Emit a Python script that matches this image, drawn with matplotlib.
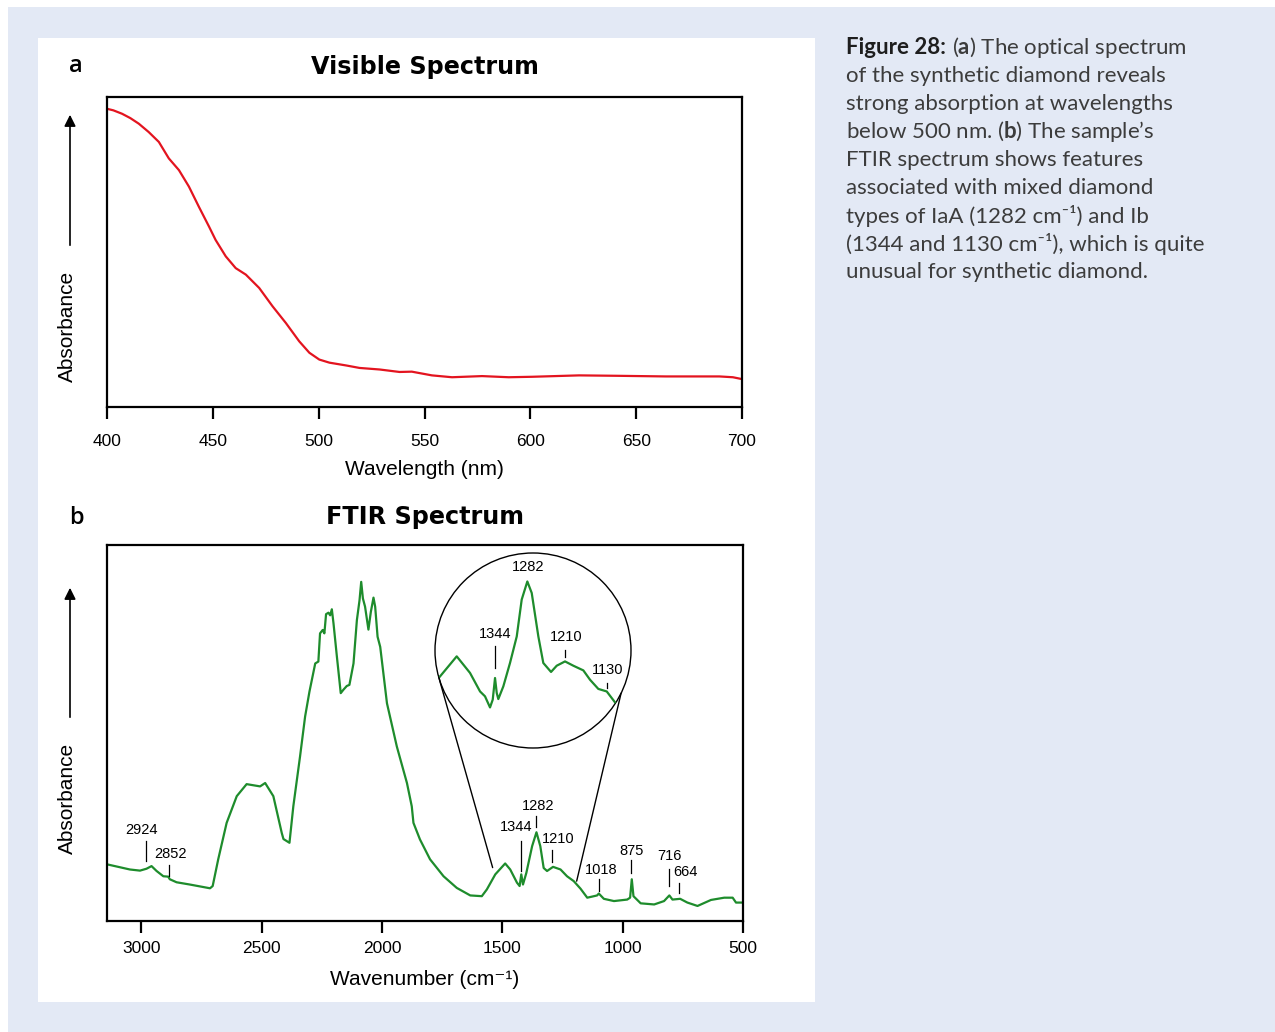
"""
Figure 28: visible and FTIR absorption spectra of a synthetic diamond.
Two stacked panels on a white card, caption on the right.
"""

import matplotlib
matplotlib.use("Agg")
import matplotlib.pyplot as plt
from matplotlib.patches import Circle, Rectangle, FancyArrowPatch, ConnectionPatch
import numpy as np

# ---------------------------------------------------------------------------
# Data (absorbance in relative units)
# ---------------------------------------------------------------------------
VIS_NM = [400, 403, 407.1, 411, 415, 419.7, 424.5, 429.2, 434, 438.7, 443.4,
          448.2, 451.3, 456.1, 460.8, 465.6, 471.9, 478.2, 484.5, 490.8,
          495.6, 500.3, 505.1, 513, 519.3, 528.8, 538.2, 544, 553.5, 563,
          577.2, 589.8, 600.9, 623, 640.4, 664, 689.3, 695.7, 700]
VIS_ABS = [0.962, 0.957, 0.946, 0.932, 0.914, 0.887, 0.855, 0.802, 0.764,
           0.711, 0.646, 0.582, 0.539, 0.486, 0.448, 0.427, 0.384, 0.325,
           0.271, 0.212, 0.175, 0.153, 0.143, 0.134, 0.126, 0.121, 0.113,
           0.114, 0.102, 0.096, 0.0997, 0.096, 0.0975, 0.102, 0.1007, 0.0986,
           0.0986, 0.096, 0.09]

FTIR_WN = [3137, 3047, 3005, 2978, 2957, 2936, 2908, 2888, 2881, 2853, 2798,
           2714, 2703, 2680, 2645, 2603, 2562, 2506, 2485, 2451, 2416, 2409,
           2384, 2368, 2340, 2319, 2301, 2277, 2264, 2257, 2246, 2239, 2232,
           2222, 2215, 2208, 2201, 2187, 2171, 2160, 2146, 2135, 2118, 2104,
           2093, 2086, 2079, 2070, 2056, 2046, 2035, 2028, 2018, 2007, 1979,
           1938, 1896, 1876, 1869, 1842, 1800, 1744, 1689, 1633, 1585, 1564,
           1529, 1488, 1467, 1439, 1428, 1421, 1414, 1400, 1376, 1358, 1342,
           1328, 1314, 1289, 1258, 1231, 1203, 1175, 1147, 1126, 1106, 1099,
           1078, 1036, 981, 969, 962, 955, 925, 869, 828, 806, 793, 761,
           731, 689, 633, 578, 543, 529, 501]
FTIR_ABS = [0.150, 0.137, 0.134, 0.139, 0.146, 0.133, 0.119, 0.118, 0.111,
            0.103, 0.097, 0.087, 0.093, 0.164, 0.261, 0.332, 0.364, 0.358,
            0.367, 0.332, 0.234, 0.218, 0.208, 0.305, 0.438, 0.544, 0.610,
            0.685, 0.690, 0.765, 0.774, 0.765, 0.816, 0.820, 0.813, 0.829,
            0.791, 0.703, 0.606, 0.615, 0.625, 0.628, 0.685, 0.800, 0.853,
            0.902, 0.858, 0.836, 0.775, 0.822, 0.860, 0.836, 0.756, 0.729,
            0.579, 0.464, 0.367, 0.305, 0.261, 0.217, 0.164, 0.119, 0.088,
            0.068, 0.066, 0.084, 0.124, 0.153, 0.137, 0.102, 0.093, 0.124,
            0.097, 0.128, 0.199, 0.236, 0.199, 0.141, 0.133, 0.144, 0.137,
            0.119, 0.106, 0.086, 0.062, 0.065, 0.068, 0.073, 0.059, 0.053,
            0.057, 0.062, 0.111, 0.066, 0.047, 0.044, 0.053, 0.068, 0.057,
            0.059, 0.049, 0.040, 0.056, 0.062, 0.062, 0.049, 0.049]

# magnified 1400-1100 cm-1 region shown in the circle
ZOOM_WN = [1449.4, 1417.4, 1391.9, 1372.7, 1363.2, 1353.6, 1348.4, 1344,
           1340.7, 1337.7, 1328.1, 1315.3, 1302.4, 1292.9, 1282.1, 1273.7,
           1261.0, 1251.5, 1236.7, 1225.8, 1209.9, 1194.0, 1174.8, 1162.0,
           1146.1, 1130.0, 1114.1]
ZOOM_ABS = [0.367, 0.470, 0.385, 0.290, 0.265, 0.208, 0.248, 0.359, 0.282,
            0.251, 0.316, 0.436, 0.572, 0.761, 0.854, 0.795, 0.572, 0.436,
            0.390, 0.422, 0.444, 0.422, 0.398, 0.350, 0.303, 0.290, 0.234]

VIS_TICKS = [400, 450, 500, 550, 600, 650, 700]
FTIR_TICKS = [3000, 2500, 2000, 1500, 1000, 500]

# peak labels: (text, text x, text y, tick x, tick y0, tick y1)
FTIR_PEAKS = [
    ("2924", 2998, 0.241, 2980, 0.159, 0.212),
    ("2852", 2878, 0.179, 2886, 0.119, 0.148),
    ("1282", 1351, 0.305, 1358, 0.250, 0.279),
    ("1344", 1441, 0.250, 1423, 0.133, 0.212),
    ("1210", 1268, 0.217, 1292, 0.157, 0.188),
    ("1018", 1091, 0.135, 1099, 0.080, 0.113),
    ("875", 961, 0.186, 966, 0.128, 0.162),
    ("716", 807, 0.174, 809, 0.093, 0.137),
    ("664", 739, 0.130, 764, 0.074, 0.102),
]
ZOOM_PEAKS = [
    ("1282", 1281, 0.929, None, None, None),
    ("1344", 1344, 0.586, 1344, 0.412, 0.525),
    ("1210", 1208, 0.571, 1210, 0.468, 0.504),
    ("1130", 1129, 0.402, 1129, 0.309, 0.335),
]

CAPTION_HEAD = "Figure 28:"
CAPTION_LINES = [
    r"($\mathbf{a}$) The optical spectrum",
    "of the synthetic diamond reveals",
    "strong absorption at wavelengths",
    r"below 500 nm. ($\mathbf{b}$) The sample’s",
    "FTIR spectrum shows features",
    "associated with mixed diamond",
    "types of IaA (1282 cm⁻¹) and Ib",
    "(1344 and 1130 cm⁻¹), which is quite",
    "unusual for synthetic diamond.",
]

# ---------------------------------------------------------------------------
# Style
# ---------------------------------------------------------------------------
W, H = 1275, 1032
BG = "#e3e9f5"
RED = "#e3141f"
GREEN = "#1e8c2c"
CAPTION_GREY = "#3c3c3c"
ARIAL = ["Liberation Sans", "DejaVu Sans"]
CAPFONT = ["Lato", "DejaVu Sans"]
TITLEFONT = ["DejaVu Sans"]

plt.rcParams["mathtext.fontset"] = "custom"
plt.rcParams["mathtext.rm"] = "Lato"
plt.rcParams["mathtext.bf"] = "Lato:bold"


def fig_rect(left, top, right, bottom):
    """Pixel box (from top-left) -> figure fraction rect."""
    return [left / W, 1 - bottom / H, (right - left) / W, (bottom - top) / H]


def fx(px):
    return px / W


def fy(py):
    return 1 - py / H


def style_axes(ax, pad):
    for sp in ax.spines.values():
        sp.set_linewidth(1.6)
    ax.tick_params(axis="x", direction="out", length=8.5, width=1.6,
                   labelsize=12.5, pad=pad)
    ax.set_yticks([])
    for lab in ax.get_xticklabels():
        lab.set_fontfamily(ARIAL)


def absorbance_label(ycenter, arrow_bottom, arrow_top):
    fig.text(fx(67), fy(ycenter), "Absorbance", rotation=90, ha="center",
             va="center", fontsize=15, family=ARIAL)
    arr = FancyArrowPatch((fx(70), fy(arrow_bottom)), (fx(70), fy(arrow_top)),
                          transform=fig.transFigure, arrowstyle="-|>",
                          mutation_scale=17, lw=1.2, color="black")
    fig.patches.append(arr)


fig = plt.figure(figsize=(W / 100, H / 100), dpi=100)
fig.patch.set_facecolor("white")
fig.patches.append(Rectangle((fx(8), 0), 1 - fx(8), fy(7), transform=fig.transFigure,
                             facecolor=BG, edgecolor="none", zorder=-3))
fig.patches.append(Rectangle((fx(38), fy(1002)), fx(815) - fx(38), fy(38) - fy(1002),
                             transform=fig.transFigure, facecolor="white",
                             edgecolor="none", zorder=-2))

# ---------------------------------------------------------------------------
# (a) visible spectrum
# ---------------------------------------------------------------------------
ax_a = fig.add_axes(fig_rect(107, 97, 742, 407))
ax_a.plot(VIS_NM, VIS_ABS, color=RED, lw=1.6)
ax_a.set_xlim(400, 700)
ax_a.set_ylim(0, 1)
ax_a.set_xticks(VIS_TICKS)
style_axes(ax_a, pad=11)
ax_a.set_xlabel("Wavelength (nm)", fontsize=15, family=ARIAL, labelpad=8)
fig.text(fx(425), fy(67), "Visible Spectrum", ha="center", va="center",
         fontsize=17.2, fontweight="bold", family=TITLEFONT)
fig.text(fx(76), fy(66), "a", ha="center", va="center", fontsize=17,
         fontweight="semibold", family=["Open Sans", "DejaVu Sans"])
absorbance_label(326, 248, 112)

# ---------------------------------------------------------------------------
# (b) FTIR spectrum
# ---------------------------------------------------------------------------
ax_b = fig.add_axes(fig_rect(107, 545, 743, 921))
ax_b.plot(FTIR_WN, FTIR_ABS, color=GREEN, lw=1.6)
ax_b.set_xlim(3142, 500)
ax_b.set_ylim(0, 1)
ax_b.set_xticks(FTIR_TICKS)
style_axes(ax_b, pad=6)
ax_b.set_xlabel("Wavenumber (cm⁻¹)", fontsize=15, family=ARIAL, labelpad=10)
fig.text(fx(425), fy(517), "FTIR Spectrum", ha="center", va="center",
         fontsize=17.2, fontweight="bold", family=TITLEFONT)
fig.text(fx(76), fy(518), "b", ha="center", va="center", fontsize=17,
         fontweight="semibold", family=["Open Sans", "DejaVu Sans"])
absorbance_label(798, 720, 585)

for label, tx, ty, lx, ly0, ly1 in FTIR_PEAKS:
    ax_b.text(tx, ty, label, ha="center", va="center", fontsize=10.5,
              family=ARIAL)
    ax_b.plot([lx, lx], [ly0, ly1], color="black", lw=0.9)

# magnified inset inside a circle
ax_in = fig.add_axes(fig_rect(435, 553, 631, 748))
ax_in.set_xlim(1459, 1083.5)
ax_in.set_ylim(0, 1)
ax_in.axis("off")
clip = Circle((0.5, 0.5), 0.5, transform=ax_in.transAxes)
line, = ax_in.plot(ZOOM_WN, ZOOM_ABS, color=GREEN, lw=1.6)
line.set_clip_path(clip)
ax_in.add_patch(Circle((0.5, 0.5), 0.5, transform=ax_in.transAxes,
                       fill=False, edgecolor="black", lw=1.0, clip_on=False))
for label, tx, ty, lx, ly0, ly1 in ZOOM_PEAKS:
    ax_in.text(tx, ty, label, ha="center", va="center", fontsize=10.5,
               family=ARIAL)
    if lx is not None:
        ax_in.plot([lx, lx], [ly0, ly1], color="black", lw=0.9)

# lines from the zoomed region to the circle
for wn, ab, ang in [(1540, 0.142, 196), (1191, 0.106, 334)]:
    a = np.deg2rad(ang)
    cp = ConnectionPatch(xyA=(wn, ab), coordsA="data", axesA=ax_b,
                         xyB=(0.5 + 0.5 * np.cos(a), 0.5 + 0.5 * np.sin(a)),
                         coordsB="axes fraction", axesB=ax_in,
                         color="black", lw=1.0)
    fig.add_artist(cp)

# ---------------------------------------------------------------------------
# caption
# ---------------------------------------------------------------------------
renderer = fig.canvas.get_renderer()
head = fig.text(fx(846), fy(48), CAPTION_HEAD, ha="left", va="center",
                fontsize=16, fontweight="bold", color="#1e1e1e", family=CAPFONT)
head_right = head.get_window_extent(renderer).x1  # display pixels from left
for i, txt in enumerate(CAPTION_LINES):
    x0 = (head_right + 6) / W if i == 0 else fx(846)
    fig.text(x0, fy(48 + 28 * i), txt, ha="left", va="center",
             fontsize=16, color=CAPTION_GREY, family=CAPFONT)

fig.savefig("out.png", dpi=100, facecolor=fig.get_facecolor())
